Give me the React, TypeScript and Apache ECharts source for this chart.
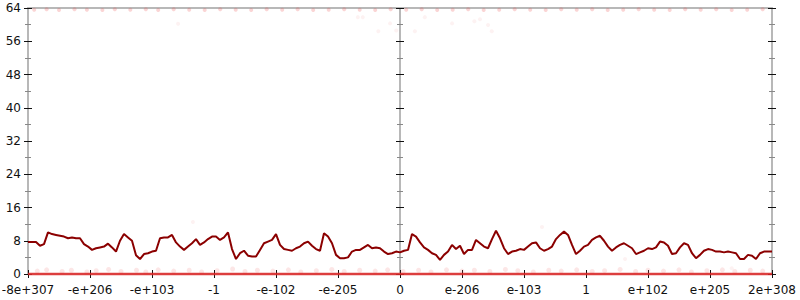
import React, { useEffect, useRef } from "react";
import * as echarts from "echarts";

const xLabels = ["-8e+307", "-e+206", "-e+103", "-1", "-e-102", "-e-205", "0", "e-206", "e-103", "1", "e+102", "e+205", "2e+308"];
const yTicks = [0, 8, 16, 24, 32, 40, 48, 56, 64];

// main walk, evenly spaced samples across the whole x range
const walkValues = [
  7.7, 7.7, 7.7, 6.8, 7.2, 10.0, 9.6, 9.4, 9.2, 9.0, 8.6, 8.8, 8.6, 8.6, 7.2, 6.6, 5.8, 6.2, 6.4, 6.6, 7.3, 6.4, 5.4, 8.0, 9.6, 8.8, 8.0, 4.5, 3.6, 4.8, 5.0, 5.4, 5.6, 8.6, 8.8, 8.8, 9.4, 7.6, 6.6, 5.8, 6.6, 7.4, 8.4, 7.0, 7.6, 8.4,
  9.0, 9.0, 8.2, 8.8, 10.0, 6.0, 3.6, 5.0, 5.6, 4.4, 4.2, 4.2, 5.8, 7.4, 7.8, 8.2, 9.6, 7.0, 6.0, 5.8, 5.6, 6.2, 6.6, 7.4, 7.8, 6.8, 6.0, 5.6, 9.8, 9.0, 7.4, 4.6, 3.8, 3.8, 4.0, 5.4, 5.8, 5.8, 6.4, 7.0, 6.2, 6.4, 6.2, 5.4, 4.8, 5.0, 5.4,
  5.2, 5.6, 5.8, 9.6, 9.0, 7.6, 6.4, 5.8, 5.0, 4.6, 3.4, 4.6, 5.4, 7.0, 6.0, 6.8, 4.8, 5.8, 5.8, 8.2, 7.4, 6.6, 6.2, 8.4, 10.4, 8.6, 6.2, 4.8, 5.4, 5.6, 6.0, 5.8, 6.6, 7.4, 7.6, 6.2, 5.6, 6.0, 6.6, 8.4, 9.4, 10.2, 9.4, 7.0, 4.8, 5.6, 6.6,
  7.0, 8.2, 8.8, 9.2, 8.0, 6.6, 5.6, 6.4, 7.0, 7.4, 6.8, 6.2, 4.8, 5.2, 5.6, 6.2, 6.0, 6.4, 7.8, 7.6, 6.8, 4.8, 5.0, 6.4, 7.4, 7.0, 5.0, 3.8, 4.6, 5.6, 6.0, 5.8, 5.4, 5.4, 5.2, 5.4, 5.2, 5.0, 3.6, 3.6, 4.6, 4.4, 3.6, 5.0, 5.4, 5.4, 5.4,
];

// faint sample points
const floorXs = [0, 12];
const lowDots = [
  [0.15, 0.7], [0.3, 1.0], [0.55, 0.6], [0.7, 0.9], [0.95, 0.5], [1.1, 0.8], [1.3, 1.1], [1.5, 0.6], [1.75, 0.9], [1.9, 0.5],
  [2.1, 1.0], [2.35, 0.7], [2.6, 0.9], [2.8, 0.5], [3.05, 0.8], [3.3, 1.2], [3.5, 0.6], [3.7, 0.9], [3.95, 0.7], [4.2, 1.0],
  [4.4, 0.5], [4.65, 0.8], [4.9, 1.1], [5.1, 0.6], [5.35, 0.9], [5.6, 0.7], [5.8, 1.0], [6.05, 0.6], [6.3, 0.9], [6.5, 0.5],
  [6.75, 1.0], [7.0, 0.7], [7.2, 0.9], [7.45, 0.6], [7.7, 1.1], [7.9, 0.8], [8.15, 0.5], [8.4, 0.9], [8.6, 0.7], [8.85, 1.0],
  [9.1, 0.6], [9.3, 0.8], [9.55, 1.1], [9.8, 0.6], [10.0, 0.9], [10.25, 0.7], [10.5, 1.0], [10.7, 0.5], [10.95, 0.8], [11.2, 1.0],
  [11.4, 0.6], [11.65, 0.9], [11.85, 0.7],
];
const topDots = [
  [0.1, 63.6], [0.3, 63.7], [0.5, 63.5], [0.75, 63.7], [0.95, 63.6], [1.2, 63.5], [1.4, 63.7], [1.65, 63.6], [1.9, 63.7], [2.1, 63.5],
  [2.35, 63.7], [2.6, 63.6], [2.85, 63.5], [3.1, 63.7], [3.35, 63.6], [3.6, 63.5], [3.85, 63.7], [4.1, 63.6], [4.35, 63.7], [4.6, 63.5],
  [4.85, 63.6], [5.1, 63.7], [5.35, 63.6], [5.6, 63.5], [5.85, 63.7], [6.1, 63.6], [6.35, 63.7], [6.6, 63.5], [6.85, 63.6], [7.1, 63.7],
  [7.35, 63.5], [7.6, 63.6], [7.85, 63.7], [8.1, 63.6], [8.35, 63.5], [8.6, 63.7], [8.85, 63.6], [9.1, 63.7], [9.35, 63.5], [9.6, 63.6],
  [9.85, 63.7], [10.1, 63.6], [10.35, 63.5], [10.6, 63.7], [10.85, 63.6], [11.1, 63.7], [11.35, 63.5], [11.6, 63.6], [11.85, 63.7],
];
const strayDots = [
  [2.42, 60.2], [2.66, 12.5], [5.32, 61.8], [5.4, 61.8], [5.65, 58.4], [5.84, 60.3], [5.94, 58.6], [6.24, 58.4], [6.4, 61.8],
  [6.84, 60.3], [7.2, 60.8], [7.29, 61.3], [7.42, 59.9], [7.48, 58.4], [8.29, 11.3], [9.63, 3.6], [11.35, 1.4],
];

const GRAY = "#b8b8b8";
const FONT = "'DejaVu Sans'";

function yAxisDef(position: string, offset: number, inside: boolean, withLabel: boolean, withLine: boolean) {
  return {
    type: "value",
    position,
    offset,
    min: yTicks[0],
    max: yTicks[yTicks.length - 1],
    interval: yTicks[1] - yTicks[0],
    splitLine: { show: false },
    axisLine: { show: withLine, onZero: false, lineStyle: { color: GRAY, width: 2 } },
    axisTick: { show: true, inside, length: 4, lineStyle: { color: "#111", width: 1 } },
    minorTick: { show: true, splitNumber: 2, length: 3, lineStyle: { color: "#888", width: 1 } },
    axisLabel: {
      show: withLabel,
      margin: 7,
      color: "#111",
      fontFamily: FONT,
      fontSize: 12,
    },
  };
}

export default function App() {
  const ref = useRef<HTMLDivElement>(null);
  useEffect(() => {
    if (!ref.current) return;
    const chart = echarts.init(ref.current, undefined, { renderer: "svg" });
    const n = walkValues.length;
    const maxX = xLabels.length - 1;
    const walk = walkValues.map((v, i) => [(i * maxX) / (n - 1), v]);
    chart.setOption({
      animation: false,
      backgroundColor: "#fff",
      textStyle: { fontFamily: FONT },
      grid: { left: 28, right: 28, top: 8, bottom: 26, containLabel: false, outerBoundsMode: "none" },
      xAxis: [
        {
          type: "value",
          position: "bottom",
          min: 0,
          max: maxX,
          interval: 1,
          splitLine: { show: false },
          axisLine: { show: true, onZero: false, lineStyle: { color: GRAY, width: 2 } },
          axisTick: { show: true, inside: false, length: 4, lineStyle: { color: "#111" } },
          axisLabel: {
            margin: 10,
            color: "#111",
            fontFamily: FONT,
            fontSize: 12,
            formatter: (v: number) => xLabels[Math.round(v)],
          },
        },
        {
          type: "value",
          position: "bottom",
          min: 0,
          max: maxX,
          interval: 1,
          splitLine: { show: false },
          axisLine: { show: false, onZero: false },
          axisTick: { show: true, inside: true, length: 4, lineStyle: { color: "#111" } },
          axisLabel: { show: false },
        },
        {
          type: "value",
          position: "top",
          min: 0,
          max: maxX,
          interval: 1,
          splitLine: { show: false },
          axisLine: { show: true, onZero: false, lineStyle: { color: GRAY, width: 2 } },
          axisTick: { show: false },
          axisLabel: { show: false },
        },
      ],
      yAxis: [
        yAxisDef("left", 0, false, true, true),
        yAxisDef("left", 0, true, false, false),
        yAxisDef("left", -372, false, false, true),
        yAxisDef("left", -372, true, false, false),
        yAxisDef("right", 0, false, false, true),
        yAxisDef("right", 0, true, false, false),
      ],
      series: [
        {
          type: "scatter",
          xAxisIndex: 0,
          yAxisIndex: 0,
          data: lowDots,
          symbolSize: 5,
          clip: false,
          itemStyle: { color: "rgba(235,80,80,0.18)" },
          silent: true,
        },
        {
          type: "scatter",
          xAxisIndex: 0,
          yAxisIndex: 0,
          data: topDots,
          symbolSize: 4,
          clip: false,
          itemStyle: { color: "rgba(235,80,80,0.3)" },
          silent: true,
        },
        {
          type: "scatter",
          xAxisIndex: 0,
          yAxisIndex: 0,
          data: strayDots,
          symbolSize: 4,
          clip: false,
          itemStyle: { color: "rgba(235,90,90,0.1)" },
          silent: true,
        },
        {
          type: "line",
          xAxisIndex: 0,
          yAxisIndex: 0,
          data: floorXs.map((x) => [x, 0]),
          showSymbol: false,
          clip: false,
          lineStyle: { color: "rgba(226,40,40,0.85)", width: 2.5 },
          silent: true,
        },
        {
          type: "line",
          xAxisIndex: 0,
          yAxisIndex: 0,
          data: walk,
          showSymbol: false,
          lineStyle: { color: "#8b0000", width: 2 },
          silent: true,
        },
      ],
    });
    return () => chart.dispose();
  }, []);
  return <div ref={ref} style={{ position: "absolute", left: 0, top: 0, width: 800, height: 300 }} />;
}
